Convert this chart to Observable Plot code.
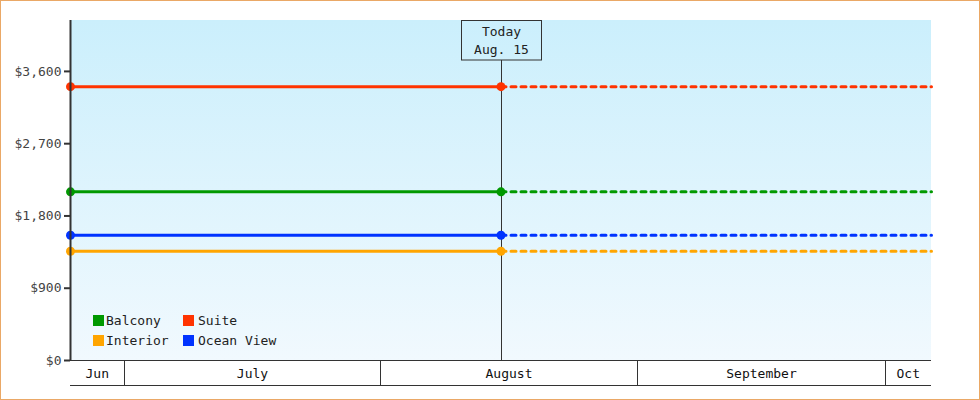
<!DOCTYPE html>
<html>
<head>
<meta charset="utf-8">
<script src="https://cdn.jsdelivr.net/npm/d3@7"></script>
<script src="https://cdn.jsdelivr.net/npm/@observablehq/plot@0.6"></script>
<style>
  html, body { margin: 0; padding: 0; background: #fff; }
  #chart svg { display: block; outline: 1px solid #eaa866; outline-offset: -1px; }
</style>
</head>
<body>
<div id="chart"></div>
<script>
// ---- data ----
const categories = ["Balcony", "Suite", "Interior", "Ocean View"];
const prices = [2100, 3410, 1360, 1560];
const colors = ["#009900", "#ff3300", "#ffa500", "#0033ff"];
const startDate = new Date(2023, 5, 24, 12);
const todayDate = new Date(2023, 7, 15, 12);
const endDate = new Date(2023, 9, 6, 12);
const todayLabel = ["Today", "Aug. 15"];
const monthStarts = [new Date(2023, 6, 1), new Date(2023, 7, 1), new Date(2023, 8, 1), new Date(2023, 9, 1)];
const monthLabels = ["Jun", "July", "August", "September", "Oct"];
const yTicks = [0, 900, 1800, 2700, 3600];
const yMax = 4234;

const FONT = "DejaVu Sans Mono, monospace";

const solid = categories.flatMap((c, i) => [
  {cat: c, date: startDate, price: prices[i]},
  {cat: c, date: todayDate, price: prices[i]}
]);
const dashed = categories.flatMap((c, i) => [
  {cat: c, date: todayDate, price: prices[i]},
  {cat: c, date: endDate, price: prices[i]}
]);

const svgNS = "http://www.w3.org/2000/svg";
function el(name, attrs, text) {
  const e = document.createElementNS(svgNS, name);
  for (const k in attrs) e.setAttribute(k, attrs[k]);
  if (text !== undefined) e.textContent = text;
  return e;
}

// background gradient
function background(index, scales, values, dims) {
  const g = el("g", {});
  const defs = el("defs", {});
  const lg = el("linearGradient", {id: "bggrad", x1: 0, y1: 0, x2: 0, y2: 1});
  lg.appendChild(el("stop", {offset: "0%", "stop-color": "#cbeffc"}));
  lg.appendChild(el("stop", {offset: "100%", "stop-color": "#f1f9fe"}));
  defs.appendChild(lg);
  g.appendChild(defs);
  g.appendChild(el("rect", {
    x: dims.marginLeft, y: dims.marginTop,
    width: dims.width - dims.marginLeft - dims.marginRight,
    height: dims.height - dims.marginTop - dims.marginBottom,
    fill: "url(#bggrad)"
  }));
  return g;
}

// bottom month band
function monthAxis(index, scales, values, dims) {
  const g = el("g", {"font-family": FONT, "font-size": 13, fill: "#111", "text-anchor": "middle"});
  const x0 = dims.marginLeft, x1 = dims.width - dims.marginRight;
  const yTop = dims.height - dims.marginBottom;
  const yBot = yTop + 25;
  g.appendChild(el("line", {x1: x0, x2: x1, y1: yTop + 0.5, y2: yTop + 0.5, stroke: "#333", "stroke-width": 1}));
  g.appendChild(el("line", {x1: x0, x2: x1, y1: yBot + 0.5, y2: yBot + 0.5, stroke: "#333", "stroke-width": 1}));
  const edges = [x0, ...monthStarts.map(d => Math.round(scales.x(d)) + 0.5), x1];
  monthStarts.forEach(d => {
    const xx = Math.round(scales.x(d)) + 0.5;
    g.appendChild(el("line", {x1: xx, x2: xx, y1: yTop, y2: yBot, stroke: "#333", "stroke-width": 1}));
  });
  monthLabels.forEach((lab, i) => {
    g.appendChild(el("text", {x: (edges[i] + edges[i + 1]) / 2, y: yTop + 18}, lab));
  });
  return g;
}

// today marker
function todayMarker(index, scales, values, dims) {
  const g = el("g", {"font-family": FONT, "font-size": 13, fill: "#222", "text-anchor": "middle"});
  const xx = Math.round(scales.x(todayDate)) + 0.5;
  const yTop = dims.marginTop;
  const yBot = dims.height - dims.marginBottom;
  g.appendChild(el("line", {x1: xx, x2: xx, y1: yTop + 40, y2: yBot, stroke: "#333", "stroke-width": 1}));
  g.appendChild(el("rect", {x: xx - 40, y: yTop + 0.5, width: 80, height: 39.5, fill: "none", stroke: "#333", "stroke-width": 1}));
  g.appendChild(el("text", {x: xx, y: yTop + 16}, todayLabel[0]));
  g.appendChild(el("text", {x: xx, y: yTop + 34}, todayLabel[1]));
  return g;
}

// legend
function legend(index, scales, values, dims) {
  const g = el("g", {"font-family": FONT, "font-size": 13, fill: "#222", "text-anchor": "start"});
  const lx = dims.marginLeft + 23, ly = dims.height - dims.marginBottom - 45;
  categories.forEach((c, i) => {
    const col = i % 2, row = Math.floor(i / 2);
    const x = lx + col * 90, y = ly + row * 20;
    g.appendChild(el("rect", {x: x, y: y, width: 11, height: 11, fill: colors[i]}));
    g.appendChild(el("text", {x: x + 13 + col * 2, y: y + 10, "text-anchor": "start"}, c));
  });
  return g;
}

const chart = Plot.plot({
  width: 980,
  height: 400,
  marginLeft: 70,
  marginRight: 49,
  marginTop: 20,
  marginBottom: 40,
  style: {fontFamily: FONT, fontSize: "13px", background: "#fff"},
  x: {type: "time", domain: [startDate, endDate], axis: null},
  y: {domain: [0, yMax], axis: null},
  color: {domain: categories, range: colors},
  marks: [
    background,
    Plot.lineY(solid, {x: "date", y: "price", z: "cat", stroke: "cat", strokeWidth: 3}),
    Plot.lineY(dashed, {x: "date", y: "price", z: "cat", stroke: "cat", strokeWidth: 3, strokeDasharray: "5,5"}),
    todayMarker,
    Plot.dot(solid, {x: "date", y: "price", fill: "cat", r: 4.5, symbol: "circle"}),
    Plot.ruleX([startDate], {stroke: "#333", strokeWidth: 2}),
    Plot.axisY(yTicks, {
      tickSize: 6, tickFormat: d => "$" + d3.format(",")(d),
      stroke: "#333", strokeWidth: 2, fill: "#444", fontSize: 13, tickPadding: 3, label: null
    }),
    monthAxis,
    legend
  ]
});
document.getElementById("chart").appendChild(chart);
</script>
</body>
</html>
